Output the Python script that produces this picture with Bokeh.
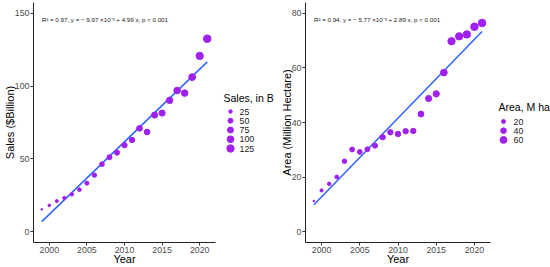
import numpy as np
from bokeh.plotting import figure
from bokeh.layouts import row
from bokeh.models import Range1d, Label, FixedTicker, ColumnDataSource
from bokeh.core.properties import value
from bokeh.embed import file_html
from bokeh.resources import INLINE

# ---------------- data ----------------
years = list(range(1999, 2022))
sales = [15.3, 18.0, 21.0, 23.1, 25.6, 28.8, 33.3, 38.8, 46.3, 51.1, 54.3, 59.4,
         63.0, 71.0, 68.5, 80.1, 81.5, 90.2, 97.0, 95.2, 106.2, 120.8, 132.6]
area = [11.2, 15.1, 17.5, 20.0, 25.8, 30.1, 29.2, 30.2, 31.5, 34.6, 36.4, 35.8,
        36.8, 36.9, 43.1, 48.8, 50.5, 58.3, 69.8, 71.6, 72.3, 75.1, 76.5]
sales_breaks = [25, 50, 75, 100, 125]
area_breaks = [20, 40, 60]
x_ticks = [2000, 2005, 2010, 2015, 2020]
sales_ticks = [0, 50, 100, 150]
area_ticks = [0, 20, 40, 60, 80]
sales_eq = "R\u00b2 = 0.97, y = \u2212 9.97 \u00d710\u207b\u00b3 + 4.99 x, p < 0.001"
area_eq = "R\u00b2 = 0.94, y = \u2212 5.77 \u00d710\u207b\u00b3 + 2.89 x, p < 0.001"

PURPLE = "#A020F0"
BLUE = "#3366FF"
FONT = "Liberation Sans"
H = 267
FRAME_TOP, FRAME_BOTTOM = 2, 242   # legend panels' frames are aligned to these


def size_scale(v, vmin, vmax, dmin=1.8, dmax=7.6):
    t = np.clip((np.asarray(v, float) - vmin) / (vmax - vmin), 0, 1)
    return dmin + (dmax - dmin) * np.sqrt(t)


def panel(vals, ylab, yr, yticks, eq, eq_y, width, left_border):
    p = figure(width=width, height=H, output_backend="svg", toolbar_location=None,
               x_range=Range1d(1997.9, 2022.1), y_range=Range1d(*yr),
               min_border_left=left_border, min_border_right=2, min_border_top=2,
               min_border_bottom=0, background_fill_color="white",
               border_fill_color="white")
    p.outline_line_color = None
    p.xgrid.grid_line_color = None
    p.ygrid.grid_line_color = None
    vmin, vmax = min(vals), max(vals)
    slope, icpt = np.polyfit(years, vals, 1)
    xs = [years[0], years[-1]]
    p.line(xs, [icpt + slope * x for x in xs], line_color=BLUE, line_width=1.6)
    src = ColumnDataSource(dict(x=years, y=vals, s=size_scale(vals, vmin, vmax)))
    p.scatter("x", "y", size="s", source=src, fill_color=PURPLE, line_color=PURPLE)
    p.add_layout(Label(x=years[0], y=eq_y, text=eq, text_font=FONT,
                       text_font_size="6.2px", text_baseline="middle",
                       text_color="#222222"))
    for ax, lab in ((p.xaxis, "Year"), (p.yaxis, ylab)):
        ax.axis_label = lab
        ax.axis_label_text_font = FONT
        ax.axis_label_text_font_size = "11px"
        ax.axis_label_text_font_style = "normal"
        ax.axis_label_text_color = "black"
        ax.major_label_text_font = FONT
        ax.major_label_text_font_size = "8.8px"
        ax.major_label_text_color = "#4D4D4D"
        ax.major_label_standoff = 1
        ax.axis_line_color = "#222222"
        ax.axis_line_width = 1
        ax.major_tick_line_color = "#333333"
        ax.major_tick_in = 0
        ax.major_tick_out = 3
        ax.minor_tick_line_color = None
    p.xaxis.axis_label_standoff = -3
    p.yaxis.axis_label_standoff = -4
    p.xaxis.ticker = FixedTicker(ticks=x_ticks)
    p.yaxis.ticker = FixedTicker(ticks=yticks)
    return p, vmin, vmax


def legend_fig(width, title, breaks, vmin, vmax, title_y, row0, dy, tx, kx, lx):
    f = figure(width=width, height=H, output_backend="svg", toolbar_location=None,
               x_range=Range1d(0, width), y_range=Range1d(FRAME_BOTTOM, FRAME_TOP),
               x_axis_location=None, y_axis_location=None,
               min_border=0, background_fill_color="white",
               border_fill_color="white")
    f.grid.visible = False
    f.outline_line_color = None
    f.add_layout(Label(x=tx, y=title_y, text=title, text_font=FONT,
                       text_font_size="10.5px", text_baseline="middle",
                       text_color="black"))
    ys = [row0 + i * dy for i in range(len(breaks))]
    f.scatter([kx] * len(breaks), ys, size=size_scale(breaks, vmin, vmax),
              fill_color=PURPLE, line_color=PURPLE)
    f.text([lx] * len(breaks), ys, text=[str(b) for b in breaks],
           text_font=value(FONT), text_font_size="8.8px",
           text_baseline="middle", text_color="#222222")
    return f


p1, v1min, v1max = panel(sales, "Sales ($Billion)", (-7.5, 157.5), sales_ticks,
                         sales_eq, 146, 217, 30)
p2, v2min, v2max = panel(area, "Area (Million Hectare)", (-4, 84), area_ticks,
                         area_eq, 77.8, 217, 30)
l1 = legend_fig(58, "Sales, in B", sales_breaks, v1min, v1max, 97, 111, 9.25, 6, 13, 22)
l2 = legend_fig(58, "Area, M ha", area_breaks, v2min, v2max, 106, 121, 9.2, 6, 11, 21)

layout = row(p1, l1, p2, l2, spacing=0)
open("out.html", "w").write(file_html(layout, INLINE))
